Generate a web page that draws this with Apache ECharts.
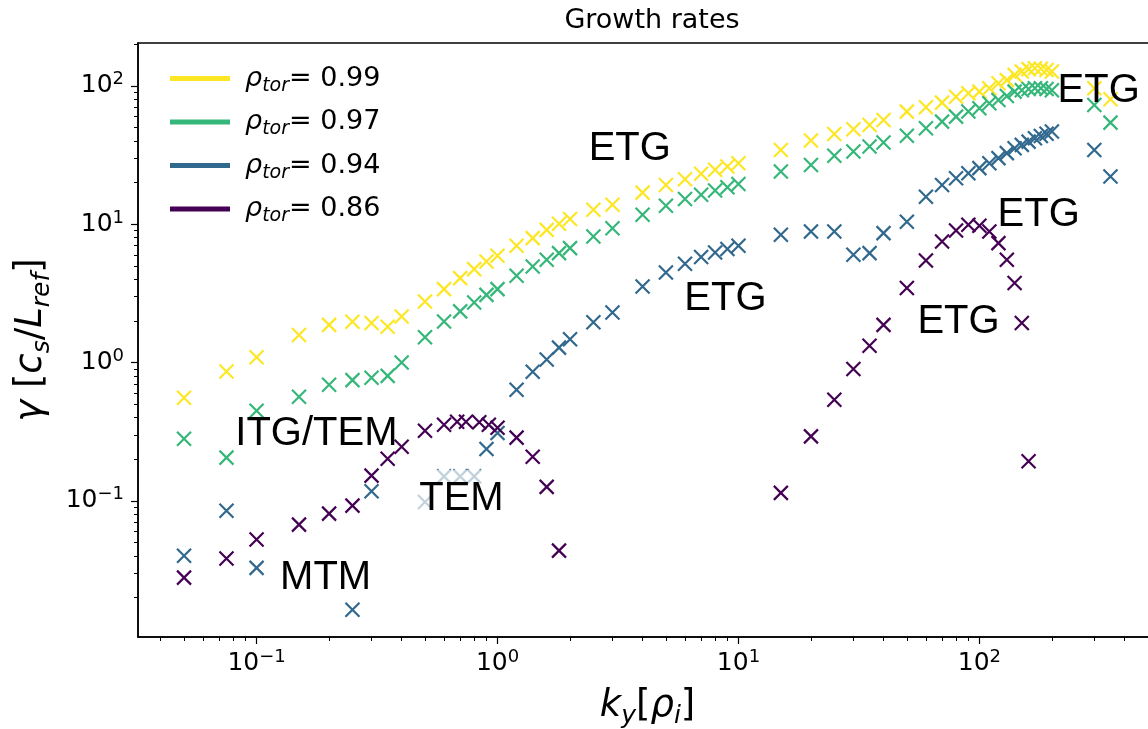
<!DOCTYPE html>
<html>
<head>
<meta charset="utf-8">
<title>Growth rates</title>
<script src="https://cdn.jsdelivr.net/npm/echarts@6/dist/echarts.min.js"></script>
<style>
html, body { margin: 0; padding: 0; background: #fff; }
#chart_growth { width: 1148px; height: 729px; }
</style>
</head>
<body>
<div id="chart_growth"></div>
<script>
// rho_tor of each scan and its colour (viridis)
var rhoTor = ['0.99', '0.97', '0.94', '0.86'];
var rhoColor = ['#fde725', '#35b779', '#31688e', '#440154'];

// rho_tor = 0.99  (k_y rho_i , gamma)
var ky_099 = [0.05, 0.075, 0.1, 0.15, 0.2, 0.25, 0.3, 0.35, 0.4, 0.5, 0.6, 0.7, 0.8, 0.9, 1.0, 1.2, 1.4, 1.6, 1.8, 2.0, 2.5, 3, 4, 5, 6, 7, 8, 9, 10,
	15, 20, 25, 30, 35, 40, 50, 60, 70, 80, 90, 100, 110, 120, 130, 140, 150, 160, 170, 180, 190, 200, 300, 350];
var gam_099 = [0.556, 0.86, 1.09, 1.58, 1.87, 1.97, 1.93, 1.81, 2.15, 2.76, 3.39, 4.07, 4.73, 5.37, 5.9, 6.97, 7.92, 9.09, 10.05, 10.9, 12.7, 13.8, 16.9, 19.2, 21.1, 23.1, 24.7, 26.1, 27.6,
	34.4, 40.2, 44.9, 48.6, 52.1, 56.7, 65.1, 70.0, 75.6, 83.5, 88.4, 90.8, 96.1, 104.5, 110, 120, 127, 132, 134, 133, 130, 127, 96, 80];

// rho_tor = 0.97
var ky_097 = [0.05, 0.075, 0.1, 0.15, 0.2, 0.25, 0.3, 0.35, 0.4, 0.5, 0.6, 0.7, 0.8, 0.9, 1.0, 1.2, 1.4, 1.6, 1.8, 2.0, 2.5, 3, 4, 5, 6, 7, 8, 9, 10,
	15, 20, 25, 30, 35, 40, 50, 60, 70, 80, 90, 100, 110, 120, 130, 140, 150, 160, 170, 180, 190, 200, 300, 350];
var gam_097 = [0.281, 0.205, 0.448, 0.565, 0.69, 0.745, 0.775, 0.8, 1.0, 1.52, 1.98, 2.34, 2.71, 3.08, 3.39, 4.23, 4.94, 5.52, 6.17, 6.71, 8.13, 9.35, 11.7, 13.6, 15.2, 16.3, 17.5, 18.5, 19.5,
	24.0, 26.8, 31.2, 33.5, 36.4, 38.9, 43.5, 49.4, 55.1, 59.9, 65.2, 68.9, 74.9, 79.1, 84.5, 90.8, 93, 95, 96, 96, 95, 93, 72.6, 54.2];

// rho_tor = 0.94
var ky_094 = [0.05, 0.075, 0.1, 0.25, 0.3, 0.5, 0.6, 0.7, 0.8, 0.9, 1.0, 1.2, 1.4, 1.6, 1.8, 2.0, 2.5, 3, 4, 5, 6, 7, 8, 9, 10,
	15, 20, 25, 30, 35, 40, 50, 60, 70, 80, 90, 100, 110, 120, 130, 140, 150, 160, 170, 180, 190, 200, 300, 350];
var gam_094 = [0.040, 0.0848, 0.0327, 0.0163, 0.117, 0.098, 0.15, 0.15, 0.15, 0.237, 0.309, 0.635, 0.857, 1.05, 1.28, 1.47, 1.95, 2.30, 3.54, 4.47, 5.17, 5.78, 6.24, 6.6, 6.97,
	8.37, 8.85, 8.85, 6.0, 6.17, 8.61, 10.4, 15.8, 19.2, 21.5, 23.3, 25.4, 27.6, 30.0, 32.6, 35.4, 37.4, 39.5, 41.8, 43.4, 45, 46.7, 34.4, 22.1];

// rho_tor = 0.86
var ky_086 = [0.05, 0.075, 0.1, 0.15, 0.2, 0.25, 0.3, 0.35, 0.4, 0.5, 0.6, 0.68, 0.74, 0.84, 0.92, 1.0, 1.2, 1.4, 1.6, 1.8,
	15, 20, 25, 30, 35, 40, 50, 60, 70, 80, 90, 100, 110, 120, 130, 140, 150, 160];
var gam_086 = [0.0278, 0.0382, 0.0524, 0.0672, 0.0807, 0.0922, 0.152, 0.201, 0.246, 0.321, 0.355, 0.373, 0.373, 0.37, 0.355, 0.337, 0.286, 0.208, 0.126, 0.0436,
	0.114, 0.292, 0.537, 0.896, 1.32, 1.87, 3.45, 5.46, 7.48, 8.99, 9.89, 9.72, 8.85, 7.29, 5.52, 3.75, 1.93, 0.193];

// mode labels written in the plot: text, k_y, gamma (left edge of the text)
var noteText = ['ITG/TEM', 'TEM', 'MTM', 'ETG', 'ETG', 'ETG', 'ETG', 'ETG'];
var noteKy = [0.0816, 0.447, 0.1252, 2.39, 5.96, 211, 119, 55.3];
var noteGam = [0.305, 0.1035, 0.0278, 34.8, 2.87, 91.8, 11.7, 1.95];

// axis ticks
var xMajor = [0.1, 1, 10, 100];
var xMinor = [0.04, 0.05, 0.06, 0.07, 0.08, 0.09, 0.2, 0.3, 0.4, 0.5, 0.6, 0.7, 0.8, 0.9,
	2, 3, 4, 5, 6, 7, 8, 9, 20, 30, 40, 50, 60, 70, 80, 90, 200, 300, 400, 500];
var yMajor = [0.1, 1, 10, 100];
var yMinor = [0.02, 0.03, 0.04, 0.05, 0.06, 0.07, 0.08, 0.09, 0.2, 0.3, 0.4, 0.5, 0.6, 0.7, 0.8, 0.9,
	2, 3, 4, 5, 6, 7, 8, 9, 20, 30, 40, 50, 60, 70, 80, 90, 200];

var xMin = 0.0322, xMax = 546;
var yMin = 0.01035, yMax = 204;

function xyPairs(ky, gam) {
	var out = [];
	for(var i = 0; i < ky.length; i++) {
		out.push([ky[i], gam[i]]);
	}
	return out;
}

//10^n labels
function powerLabel(v) {
	var e = Math.round(Math.log(v) / Math.LN10);
	if(Math.abs(v / Math.pow(10, e) - 1) > 1e-6) {
		return '';
	}
	return '{b|10}{e|' + (e < 0 ? '\u2212' : '') + Math.abs(e) + '}';
}

var tickRich = {
	b: { fontFamily: 'DejaVu Sans', fontSize: 25, lineHeight: 30, color: '#000' },
	e: { fontFamily: 'DejaVu Sans', fontSize: 18, lineHeight: 16, verticalAlign: 'top', color: '#000' }
};
var nameRich = {
	i: { fontFamily: 'DejaVu Sans', fontStyle: 'italic', fontSize: 37, lineHeight: 46, color: '#000' },
	n: { fontFamily: 'DejaVu Sans', fontSize: 37, lineHeight: 46, color: '#000' },
	s: { fontFamily: 'DejaVu Sans', fontStyle: 'italic', fontSize: 25, lineHeight: 25, verticalAlign: 'bottom', color: '#000' }
};

var allKy = [ky_099, ky_097, ky_094, ky_086];
var allGam = [gam_099, gam_097, gam_094, gam_086];

var seriesList = [];
var legendData = [];
for(var s = 0; s < rhoTor.length; s++) {
	seriesList.push({
		name: rhoTor[s],
		type: 'scatter',
		data: xyPairs(allKy[s], allGam[s]),
		symbol: 'path://M0,0L10,10M10,0L0,10',
		symbolSize: 14,
		itemStyle: {
			color: 'rgba(0,0,0,0)',
			borderColor: rhoColor[s],
			borderWidth: 2.2,
			opacity: 1
		},
		emphasis: { disabled: true },
		z: 2 + s
	});
	legendData.push({
		name: rhoTor[s],
		icon: 'rect',
		itemStyle: { color: rhoColor[s], borderWidth: 0, opacity: 1 }
	});
}

var noteData = [];
for(var n = 0; n < noteText.length; n++) {
	var item = { name: noteText[n], value: [noteKy[n], noteGam[n]] };
	if(noteText[n] == 'TEM') {
		item.label = { backgroundColor: 'rgba(255,255,255,0.7)', padding: [6, 6, 4, 6] };
	}
	noteData.push(item);
}
seriesList.push({
	name: 'notes',
	type: 'scatter',
	data: noteData,
	symbolSize: 1,
	itemStyle: { color: 'rgba(0,0,0,0)', opacity: 1 },
	label: {
		show: true,
		position: 'inside',
		align: 'left',
		verticalAlign: 'middle',
		formatter: '{b}',
		fontFamily: 'Liberation Sans',
		fontSize: 40,
		lineHeight: 48,
		color: '#000'
	},
	emphasis: { disabled: true },
	z: 10
});

var growthChart = echarts.init(document.getElementById('chart_growth'));
growthChart.setOption({
	animation: false,
	backgroundColor: '#fff',
	title: {
		text: 'Growth rates',
		left: 647,
		top: 2,
		textAlign: 'center',
		textStyle: { fontFamily: 'DejaVu Sans', fontSize: 27, fontWeight: 'normal', color: '#000' }
	},
	legend: {
		data: legendData,
		orient: 'vertical',
		left: 165,
		top: 60,
		itemWidth: 60,
		itemHeight: 5,
		itemGap: 13,
		selectedMode: false,
		formatter: function(name) {
			return '{i|\u03c1}{s|tor}{n|= ' + name + '}';
		},
		textStyle: {
			color: '#000',
			rich: {
				i: { fontFamily: 'DejaVu Sans', fontStyle: 'italic', fontSize: 27, lineHeight: 34, padding: [0, 0, 0, 10], color: '#000' },
				s: { fontFamily: 'DejaVu Sans', fontStyle: 'italic', fontSize: 19, lineHeight: 19, verticalAlign: 'bottom', color: '#000' },
				n: { fontFamily: 'DejaVu Sans', fontSize: 27, lineHeight: 34, color: '#000' }
			}
		}
	},
	grid: {
		left: 138,
		right: -9,
		top: 43,
		bottom: 92,
		show: true,
		borderColor: '#000',
		borderWidth: 1.5,
		containLabel: false,
		outerBoundsMode: 'none'
	},
	xAxis: [{
		type: 'log',
		logBase: 10,
		min: xMin,
		max: xMax,
		axisLine: { show: true, lineStyle: { color: '#000', width: 1.5 } },
		axisTick: { show: true, length: 7, lineStyle: { color: '#000', width: 1.2 }, customValues: xMajor },
		axisLabel: { customValues: xMajor, formatter: powerLabel, margin: 11, rich: tickRich },
		splitLine: { show: false },
		name: '{i|k}{s|y}{n|[}{i|\u03c1}{s|i}{n|]}',
		nameLocation: 'middle',
		nameGap: 46,
		nameTextStyle: { rich: nameRich }
	}, {
		type: 'log',
		logBase: 10,
		min: xMin,
		max: xMax,
		position: 'bottom',
		axisLine: { show: false },
		axisTick: { show: true, length: 4, lineStyle: { color: '#000', width: 1 }, customValues: xMinor },
		axisLabel: { show: false },
		splitLine: { show: false }
	}],
	yAxis: [{
		type: 'log',
		logBase: 10,
		min: yMin,
		max: yMax,
		axisLine: { show: true, lineStyle: { color: '#000', width: 1.5 } },
		axisTick: { show: true, length: 7, lineStyle: { color: '#000', width: 1.2 }, customValues: yMajor },
		axisLabel: { customValues: yMajor, formatter: powerLabel, margin: 14, rich: tickRich },
		splitLine: { show: false },
		name: '{i|\u03b3}{n| [}{i|c}{s|s}{n|/}{i|L}{s|ref}{n|]}',
		nameLocation: 'middle',
		nameGap: 78,
		nameRotate: 90,
		nameTextStyle: { rich: nameRich }
	}, {
		type: 'log',
		logBase: 10,
		min: yMin,
		max: yMax,
		position: 'left',
		axisLine: { show: false },
		axisTick: { show: true, length: 4, lineStyle: { color: '#000', width: 1 }, customValues: yMinor },
		axisLabel: { show: false },
		splitLine: { show: false }
	}],
	series: seriesList
});
</script>
</body>
</html>
